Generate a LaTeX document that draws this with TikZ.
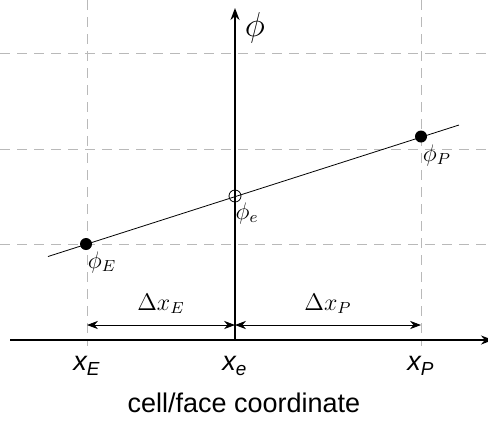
\documentclass[tikz,border=0pt]{standalone}
\usepackage{fontspec}
\setsansfont{Liberation Sans}
\usepackage{tikz}
\usetikzlibrary{positioning, arrows.meta}
\tikzset{
  gridline/.style={gray!55, dash pattern=on 5pt off 3.5pt, thin},
  axisline/.style={thick, -{Stealth[length=6pt]}},
  dimline/.style={thin, {Stealth[length=5.5pt]}-{Stealth[length=5.5pt]}},
  cellpt/.style={circle, fill=black, inner sep=0pt, minimum size=6pt},
  facept/.style={circle, draw=black, inner sep=0pt, minimum size=6pt},
  coordlabel/.style={font=\sffamily\fontsize{13.5}{16}\selectfont},
  philabel/.style={font=\large}
}
\begin{document}
\begin{tikzpicture}[x=0.5pt, y=-0.5pt]
			\useasboundingbox (0,0) rectangle (488,420);
			% Rejilla / Grid
			\foreach \yy in {53,149,244} \draw[gridline] (0,\yy) -- (488,\yy);
			\foreach \xx in {87,421} \draw[gridline] (\xx,0) -- (\xx,346);
			% Ejes / Axes
			\coordinate (origin) at (235,340);
			\draw[axisline] (10,340) -- (493,340);
			\draw[axisline] (origin) -- (235,8);
			\node[font=\LARGE] (phi) at (255,28) {$\phi$};
			% Recta / Interpolation line
			\coordinate (lineL) at (48,256.5);
			\coordinate (lineR) at (459,125);
			\draw[thin] (lineL) -- (lineR);
			\node[cellpt] (phiE) at (86,244) {};
			\node[cellpt] (phiP) at (421,136.5) {};
			\node[facept] (phie) at (235,196) {};
			\node[philabel] (lblE) at (102,262) {$\phi_E$};
			\node[philabel] (lblP) at (437,155) {$\phi_P$};
			\node[philabel] (lble) at (247,213) {$\phi_e$};
			% Cotas / Dimensions
			\coordinate (dimE) at (87,325);
			\coordinate (dime) at (235,325);
			\coordinate (dimP) at (421,325);
			\draw[dimline] (dimE) -- (dime) node[midway, above=2pt, philabel] {$\Delta x_E$};
			\draw[dimline] (dime) -- (dimP) node[midway, above=2pt, philabel] {$\Delta x_P$};
			% Etiquetas / Labels
			\node[coordlabel] (xE) at (87,366) {\itshape x\textsubscript{E}};
			\node[coordlabel] (xe) at (235,366) {\itshape x\textsubscript{e}};
			\node[coordlabel] (xP) at (421,366) {\itshape x\textsubscript{P}};
			\node[coordlabel] (caption) at (244,403) {cell/face coordinate};
\end{tikzpicture}
\end{document}
